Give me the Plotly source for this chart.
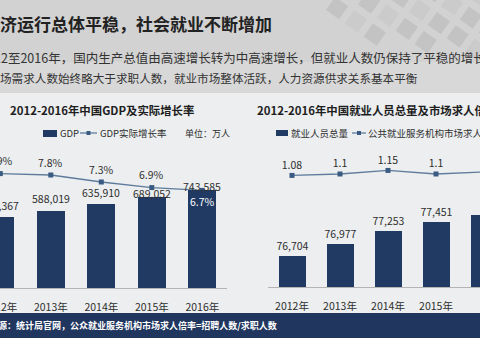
import math
import plotly.graph_objects as go

# ---------------- data ----------------
years = [2012, 2013, 2014, 2015, 2016]
year_labels = ["2012年", "2013年", "2014年", "2015年", "2016年"]
gdp = [540367, 588019, 635910, 689052, 743585]
gdp_growth = [7.9, 7.8, 7.3, 6.9, 6.7]
employed = [76704, 76977, 77253, 77451, 77603]
job_ratio = [1.08, 1.10, 1.15, 1.10, 1.13]

# label offsets (pixels above the bar top) as placed in the original slide
gdp_label_shift = [11, 12, 11.5, 4, 3.5]

W, H = 480, 338
def fx(p):
    return p / W
def fy(p):
    return 1 - p / H

NAVY = "#213a64"
LINE = "#5f7c9c"
MARK = "#3a5a82"
TXT = "#2e2e2e"
CJK = "Noto Sans CJK SC"

fig = go.Figure()

# left chart: GDP growth line (bottom layer), GDP bars (overlay)
fig.add_trace(go.Scatter(x=years, y=gdp_growth, xaxis="x", yaxis="y",
                         mode="lines+markers", cliponaxis=False,
                         line=dict(color=LINE, width=1.3),
                         marker=dict(symbol="square", size=5, color=MARK)))
fig.add_trace(go.Bar(x=years, y=gdp, xaxis="x", yaxis="y2", width=0.554,
                     marker=dict(color=NAVY, line=dict(width=0))))

# right chart: ratio line, employment bars
fig.add_trace(go.Scatter(x=years, y=job_ratio, xaxis="x2", yaxis="y3",
                         mode="lines+markers+text", cliponaxis=False,
                         text=[f"{v:g}" for v in job_ratio], textposition="top center",
                         textfont=dict(size=10.5, color=TXT, family=CJK),
                         line=dict(color=LINE, width=1.3),
                         marker=dict(symbol="square", size=5, color=MARK)))
fig.add_trace(go.Bar(x=years, y=employed, xaxis="x2", yaxis="y4", width=0.5625,
                     marker=dict(color=NAVY, line=dict(width=0)),
                     texttemplate="%{y:,}", textposition="outside",
                     constraintext="none", cliponaxis=False,
                     textfont=dict(size=10.5, color=TXT, family=CJK)))

ann = []
# left bar value labels
for yr, v, s in zip(years, gdp, gdp_label_shift):
    ann.append(dict(x=yr, y=v, xref="x", yref="y2", text=f"{v:,}", showarrow=False,
                    yanchor="middle", yshift=s, font=dict(size=10.5, color=TXT, family=CJK)))
# left line labels
for i, (yr, v) in enumerate(zip(years, gdp_growth)):
    last = i == len(years) - 1
    ann.append(dict(x=yr, y=v, xref="x", yref="y", text=f"{v}%", showarrow=False,
                    yanchor="middle", yshift=-11 if last else 13,
                    font=dict(size=10.5, color="#ffffff" if last else TXT, family=CJK)))

def txt(x, y, s, size, color=TXT, xshift=0, bold=False):
    return dict(x=fx(x), y=fy(y), xref="paper", yref="paper", xanchor="left",
                yanchor="middle", showarrow=False, xshift=xshift,
                text=f"<b>{s}</b>" if bold else s,
                font=dict(size=size, color=color, family=CJK))

ann += [
    txt(0, 23, "济运行总体平稳，社会就业不断增加", 17, "#222222", xshift=-2, bold=True),
    txt(0, 58, "12至2016年，国内生产总值由高速增长转为中高速增长，但就业人数仍保持了平稳的增长", 12.5, "#333333", xshift=-8),
    txt(0, 78, "场需求人数始终略大于求职人数，就业市场整体活跃，人力资源供求关系基本平衡", 11.6, "#333333", xshift=-2),
    txt(8, 110, "2012-2016年中国GDP及实际增长率", 11.4, "#1e1e1e", bold=True),
    txt(255, 110, "2012-2016年中国就业人员总量及市场求人倍率", 11.4, "#1e1e1e", bold=True),
    txt(58, 133, "GDP", 9.5),
    txt(98, 133, "GDP实际增长率", 9.5),
    txt(183, 133, "单位：万人", 9),
    txt(289, 133, "就业人员总量", 9.5),
    txt(366, 133, "公共就业服务机构市场求人倍率", 9.5),
    txt(0, 325, "源：统计局官网，公众就业服务机构市场求人倍率=招聘人数/求职人数", 9, "#ffffff", xshift=-4, bold=True),
]

shapes = [
    dict(type="rect", xref="paper", yref="paper", x0=0, x1=1, y0=fy(93), y1=1,
         fillcolor="#d2d2d2", line=dict(width=0), layer="below"),
    dict(type="rect", xref="paper", yref="paper", x0=0, x1=1, y0=fy(93), y1=fy(62),
         fillcolor="#d8d8d8", line=dict(width=0), layer="below"),
    dict(type="rect", xref="paper", yref="paper", x0=0, x1=1, y0=0, y1=fy(313),
         fillcolor="#20365f", line=dict(width=0), layer="below"),
]

# decorative tilted tiles in the header's right corner
ang = math.radians(35)
ux, uy = math.cos(ang), math.sin(ang)
vx, vy = -math.sin(ang), math.cos(ang)
step, half = 23, 8
for i in range(-4, 12):
    for j in range(-8, 8):
        cx = 420 + i * step * ux + j * step * vx
        cy = 10 + i * step * uy + j * step * vy
        if cx < 335 or cx > 500 or cy < -15 or cy > 52 or (cy > 40 and cx < 420):
            continue
        pts = []
        for a, b in [(-1, -1), (1, -1), (1, 1), (-1, 1)]:
            px = cx + half * (a * ux + b * vx)
            py = cy + half * (a * uy + b * vy)
            pts.append(f"{fx(px):.5f},{fy(py):.5f}")
        path = "M" + " L".join(pts) + " Z"
        shade = "#c3c3c3" if (i + j) % 3 else "#cbcbcb"
        shapes.append(dict(type="path", xref="paper", yref="paper", path=path,
                           fillcolor=shade, line=dict(width=0), layer="below"))

shapes += [
    # legend symbols
    dict(type="rect", xref="paper", yref="paper", x0=fx(43), x1=fx(57), y0=fy(137), y1=fy(130),
         fillcolor=NAVY, line=dict(width=0)),
    dict(type="line", xref="paper", yref="paper", x0=fx(80), x1=fx(97), y0=fy(133), y1=fy(133),
         line=dict(color=LINE, width=1.3)),
    dict(type="rect", xref="paper", yref="paper", x0=fx(86.5), x1=fx(90.5), y0=fy(135), y1=fy(131),
         fillcolor=MARK, line=dict(width=0)),
    dict(type="rect", xref="paper", yref="paper", x0=fx(276), x1=fx(288), y0=fy(136), y1=fy(130),
         fillcolor=NAVY, line=dict(width=0)),
    dict(type="line", xref="paper", yref="paper", x0=fx(352), x1=fx(366), y0=fy(133), y1=fy(133),
         line=dict(color=LINE, width=1.3)),
    dict(type="rect", xref="paper", yref="paper", x0=fx(357), x1=fx(361), y0=fy(135), y1=fy(131),
         fillcolor=MARK, line=dict(width=0)),
]

# axis geometry (pixel calibrated)
lx0 = 2012 - 0.3 / 50.5
rx0 = 2011.5
common_x = dict(tickvals=years, ticktext=year_labels, showline=True, linecolor="#b4b4b4",
                linewidth=1, ticks="outside", ticklen=9, tickcolor="rgba(0,0,0,0)",
                showgrid=False, zeroline=False, ticklabeloverflow="allow", automargin=False,
                tickfont=dict(size=10.5, color=TXT, family=CJK))
hidden_y = dict(visible=False, showgrid=False, zeroline=False)

fig.update_layout(
    width=W, height=H, margin=dict(l=0, r=0, t=0, b=0, pad=0, autoexpand=False),
    paper_bgcolor="#eceef0", plot_bgcolor="rgba(0,0,0,0)", showlegend=False,
    bargap=0,
    xaxis=dict(domain=[0, fx(227)], range=[lx0, lx0 + 227 / 50.5], anchor="y", **common_x),
    yaxis=dict(domain=[fy(288), fy(150)], range=[-0.271, 9.586], anchor="x", **hidden_y),
    yaxis2=dict(overlaying="y", range=[0, 138 * 7600], anchor="x", **hidden_y),
    xaxis2=dict(domain=[fx(268), 1], range=[rx0, rx0 + 212 / 48], anchor="y3", **common_x),
    yaxis3=dict(domain=[fy(287), fy(150)], range=[-0.492, 1.438], anchor="x2", **hidden_y),
    yaxis4=dict(overlaying="y3", range=[76023, 76023 + 137 * 21.97], anchor="x2", **hidden_y),
    annotations=ann, shapes=shapes,
)

fig.write_html("out.html")
